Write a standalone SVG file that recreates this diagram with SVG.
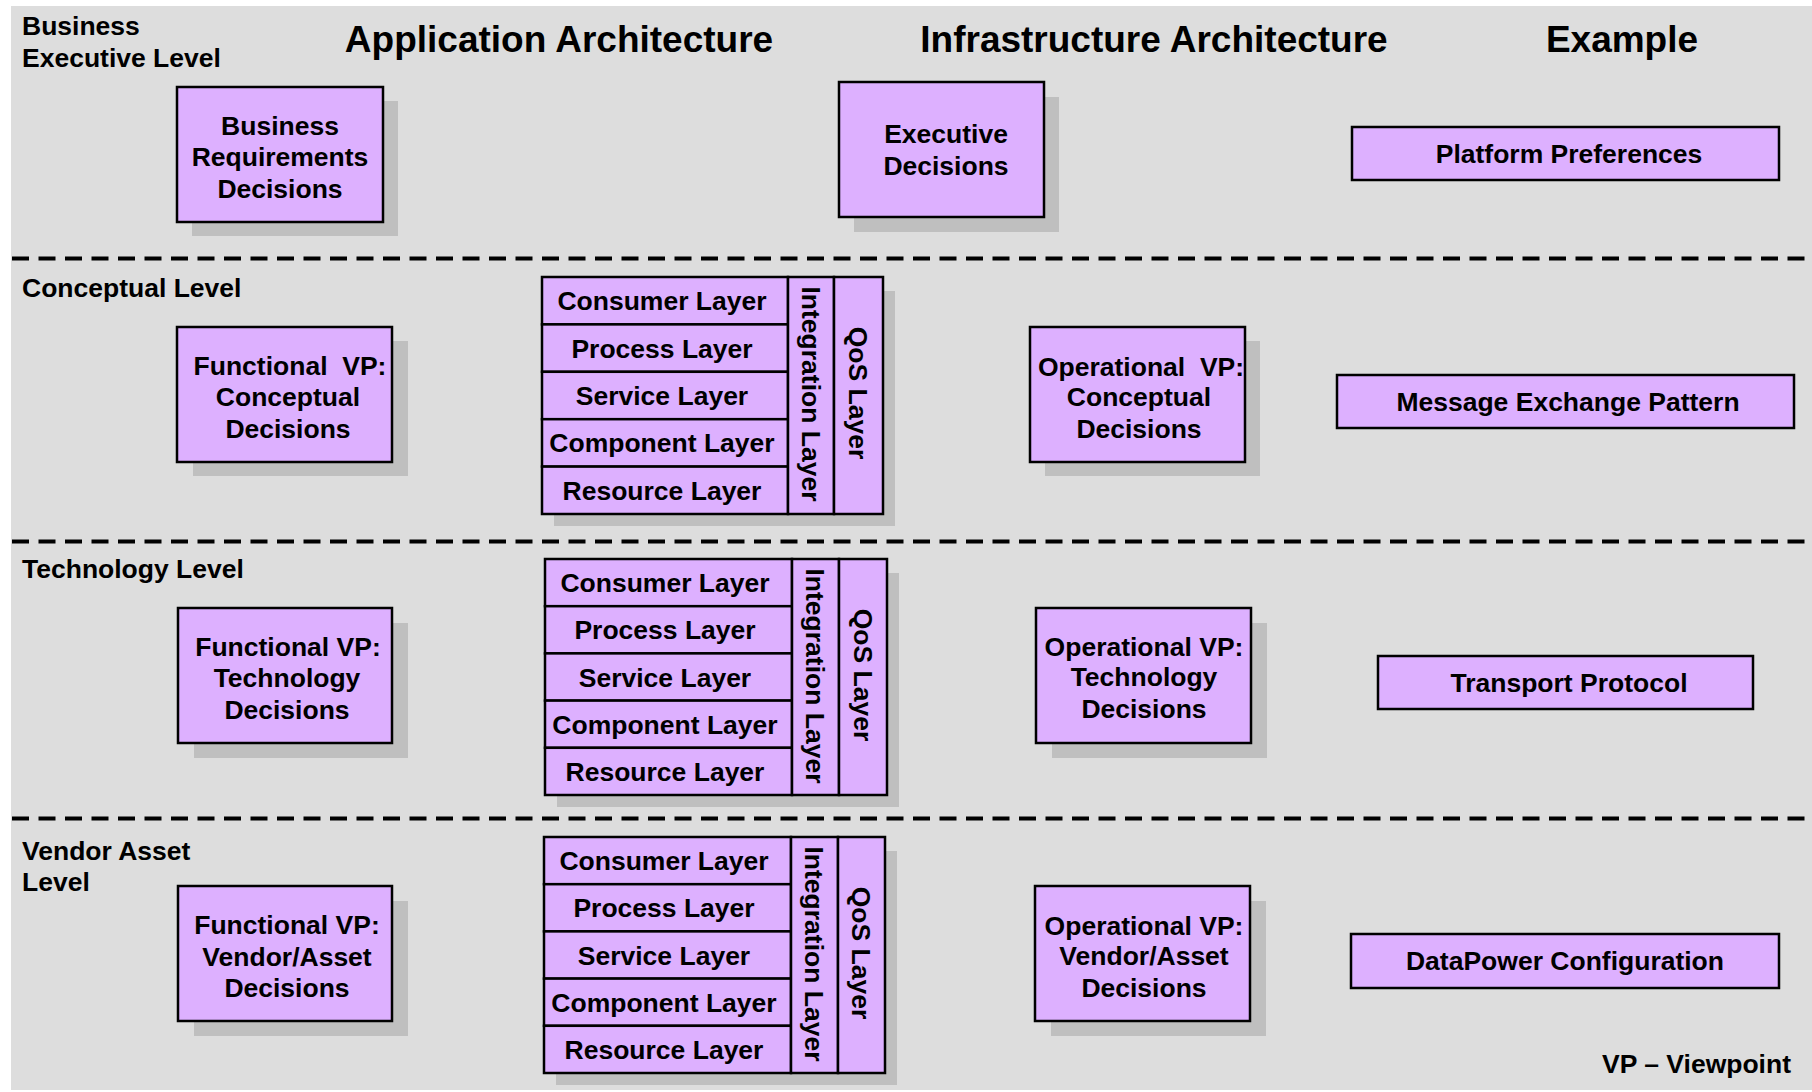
<svg xmlns="http://www.w3.org/2000/svg" width="1812" height="1092" viewBox="0 0 1812 1092">
<style>
.bg{fill:#DDDDDD}
.box{fill:#DDB0FF;stroke:#000;stroke-width:2.5}
.sh{fill:#BFBFBF}
.t{font-family:"Liberation Sans",Arial,Helvetica,sans-serif;font-weight:bold;font-size:26.5px;fill:#000}
.c{text-anchor:middle}
.e{text-anchor:end}
.h{font-size:37px}
.pre{white-space:pre}
.dash{stroke:#000;stroke-width:4;stroke-dasharray:17 9.5;fill:none}
</style>
<rect class="bg" x="11" y="6" width="1801" height="1084"/>

<g id="separators">
<line class="dash" x1="12" y1="258.5" x2="1812" y2="258.5"/>
<line class="dash" x1="12" y1="541.5" x2="1812" y2="541.5"/>
<line class="dash" x1="12" y1="818.5" x2="1812" y2="818.5"/>
</g>
<g id="connectors"/>

<g id="titles">
<text class="t h c" x="559" y="52">Application Architecture</text>
<text class="t h c" x="1154" y="52">Infrastructure Architecture</text>
<text class="t h c" x="1622" y="52">Example</text>
</g>

<g id="levels">
<text class="t" x="22" y="35">Business</text>
<text class="t" x="22" y="67">Executive Level</text>
<text class="t" x="22" y="297">Conceptual Level</text>
<text class="t" x="22" y="578">Technology Level</text>
<text class="t" x="22" y="860">Vendor Asset</text>
<text class="t" x="22" y="891">Level</text>
</g>

<g id="business-requirements">
<rect class="sh" x="192" y="101" width="206" height="135"/>
<rect class="box" x="177" y="87" width="206" height="135"/>
<text class="t c" x="280" y="135">Business</text>
<text class="t c" x="280" y="166">Requirements</text>
<text class="t c" x="280" y="198">Decisions</text>
</g>

<g id="executive-decisions">
<rect class="sh" x="854" y="97" width="205" height="135"/>
<rect class="box" x="839" y="82" width="205" height="135"/>
<text class="t c" x="946" y="143">Executive</text>
<text class="t c" x="946" y="175">Decisions</text>
</g>

<g id="platform-preferences">
<rect class="box" x="1352" y="127" width="427" height="53"/>
<text class="t c" x="1569" y="163">Platform Preferences</text>
</g>

<g id="functional-conceptual">
<rect class="sh" x="193" y="341" width="215" height="135"/>
<rect class="box" x="177" y="327" width="215" height="135"/>
<text class="t c pre" x="290" y="375">Functional  VP:</text>
<text class="t c" x="288" y="406">Conceptual</text>
<text class="t c" x="288" y="438">Decisions</text>
</g>

<g id="operational-conceptual">
<rect class="sh" x="1045" y="341" width="215" height="135"/>
<rect class="box" x="1030" y="327" width="215" height="135"/>
<text class="t c pre" x="1141" y="376">Operational  VP:</text>
<text class="t c" x="1139" y="406">Conceptual</text>
<text class="t c" x="1139" y="438">Decisions</text>
</g>

<g id="message-exchange-pattern">
<rect class="box" x="1337" y="375" width="457" height="53"/>
<text class="t c" x="1568" y="411">Message Exchange Pattern</text>
</g>

<g id="functional-technology">
<rect class="sh" x="194" y="623" width="214" height="135"/>
<rect class="box" x="178" y="608" width="214" height="135"/>
<text class="t c" x="288" y="656">Functional VP:</text>
<text class="t c" x="287" y="687">Technology</text>
<text class="t c" x="287" y="719">Decisions</text>
</g>

<g id="operational-technology">
<rect class="sh" x="1052" y="623" width="215" height="135"/>
<rect class="box" x="1036" y="608" width="215" height="135"/>
<text class="t c" x="1144" y="656">Operational VP:</text>
<text class="t c" x="1144" y="686">Technology</text>
<text class="t c" x="1144" y="718">Decisions</text>
</g>

<g id="transport-protocol">
<rect class="box" x="1378" y="656" width="375" height="53"/>
<text class="t c" x="1569" y="692">Transport Protocol</text>
</g>

<g id="functional-vendor">
<rect class="sh" x="194" y="901" width="214" height="135"/>
<rect class="box" x="178" y="886" width="214" height="135"/>
<text class="t c" x="287" y="934">Functional VP:</text>
<text class="t c" x="287" y="966">Vendor/Asset</text>
<text class="t c" x="287" y="997">Decisions</text>
</g>

<g id="operational-vendor">
<rect class="sh" x="1051" y="901" width="215" height="135"/>
<rect class="box" x="1035" y="886" width="215" height="135"/>
<text class="t c" x="1144" y="935">Operational VP:</text>
<text class="t c" x="1144" y="965">Vendor/Asset</text>
<text class="t c" x="1144" y="997">Decisions</text>
</g>

<g id="datapower-configuration">
<rect class="box" x="1351" y="934" width="428" height="54"/>
<text class="t c" x="1565" y="970">DataPower Configuration</text>
</g>

<g id="layers-conceptual">
<rect class="sh" x="554" y="291" width="341" height="235"/>
<rect class="box" x="542" y="277" width="246" height="47.4"/>
<rect class="box" x="542" y="324.4" width="246" height="47.4"/>
<rect class="box" x="542" y="371.8" width="246" height="47.4"/>
<rect class="box" x="542" y="419.2" width="246" height="47.4"/>
<rect class="box" x="542" y="466.6" width="246" height="47.4"/>
<rect class="box" x="788" y="277" width="46" height="237"/>
<rect class="box" x="834" y="277" width="49" height="237"/>
<text class="t c" x="662" y="310.2">Consumer Layer</text>
<text class="t c" x="662" y="357.6">Process Layer</text>
<text class="t c" x="662" y="405">Service Layer</text>
<text class="t c" x="662" y="452.4">Component Layer</text>
<text class="t c" x="662" y="499.8">Resource Layer</text>
<text class="t c" transform="translate(811,394) rotate(90)" x="0" y="9.5">Integration Layer</text>
<text class="t c" transform="translate(858.5,393) rotate(90)" x="0" y="9.5">QoS Layer</text>
</g>

<g id="layers-technology">
<rect class="sh" x="557" y="573" width="342" height="234"/>
<rect class="box" x="545" y="559" width="247" height="47.2"/>
<rect class="box" x="545" y="606.2" width="247" height="47.2"/>
<rect class="box" x="545" y="653.4" width="247" height="47.2"/>
<rect class="box" x="545" y="700.6" width="247" height="47.2"/>
<rect class="box" x="545" y="747.8" width="247" height="47.2"/>
<rect class="box" x="792" y="559" width="47" height="236"/>
<rect class="box" x="839" y="559" width="48" height="236"/>
<text class="t c" x="665" y="592.1">Consumer Layer</text>
<text class="t c" x="665" y="639.3">Process Layer</text>
<text class="t c" x="665" y="686.5">Service Layer</text>
<text class="t c" x="665" y="733.7">Component Layer</text>
<text class="t c" x="665" y="780.9">Resource Layer</text>
<text class="t c" transform="translate(815.5,676) rotate(90)" x="0" y="9.5">Integration Layer</text>
<text class="t c" transform="translate(863,675) rotate(90)" x="0" y="9.5">QoS Layer</text>
</g>

<g id="layers-vendor">
<rect class="sh" x="556" y="851" width="341" height="234"/>
<rect class="box" x="544" y="837" width="247" height="47.2"/>
<rect class="box" x="544" y="884.2" width="247" height="47.2"/>
<rect class="box" x="544" y="931.4" width="247" height="47.2"/>
<rect class="box" x="544" y="978.6" width="247" height="47.2"/>
<rect class="box" x="544" y="1025.8" width="247" height="47.2"/>
<rect class="box" x="791" y="837" width="47" height="236"/>
<rect class="box" x="838" y="837" width="47" height="236"/>
<text class="t c" x="664" y="870.1">Consumer Layer</text>
<text class="t c" x="664" y="917.3">Process Layer</text>
<text class="t c" x="664" y="964.5">Service Layer</text>
<text class="t c" x="664" y="1011.7">Component Layer</text>
<text class="t c" x="664" y="1058.9">Resource Layer</text>
<text class="t c" transform="translate(814.5,954) rotate(90)" x="0" y="9.5">Integration Layer</text>
<text class="t c" transform="translate(861.5,953) rotate(90)" x="0" y="9.5">QoS Layer</text>
</g>

<g id="legend">
<text class="t e" x="1791" y="1073">VP – Viewpoint</text>
</g>
</svg>
